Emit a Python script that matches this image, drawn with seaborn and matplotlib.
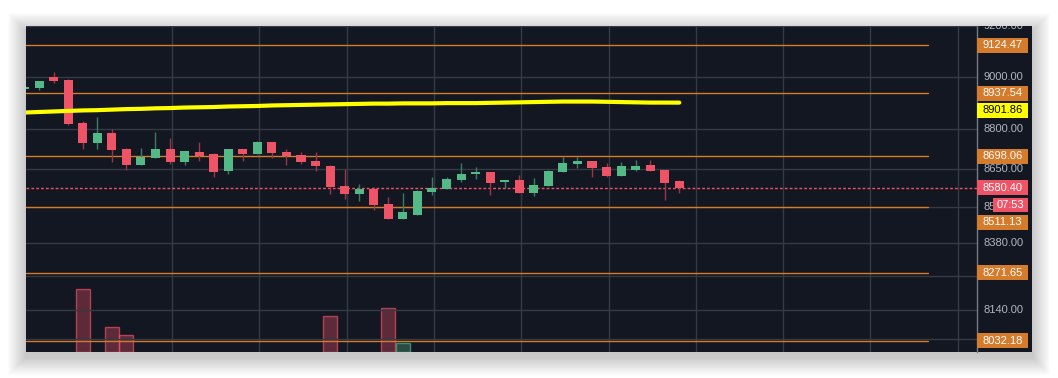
import pandas as pd
import matplotlib
matplotlib.use('Agg')
import matplotlib.pyplot as plt
import seaborn as sns
from matplotlib.patches import Rectangle
from matplotlib.ticker import FixedLocator, NullLocator
from matplotlib.transforms import blended_transform_factory, IdentityTransform

# hourly candles, oldest first (the first one is half cut by the left edge)
opens  = [8955, 8958, 9000, 8988, 8823, 8748, 8785, 8725, 8666, 8692,
          8725, 8677, 8713, 8706, 8644, 8725, 8707, 8751, 8713, 8702,
          8680, 8661, 8587, 8557, 8576, 8520, 8466, 8480, 8565, 8578,
          8609, 8631, 8639, 8602, 8609, 8561, 8587, 8639, 8669, 8680,
          8657, 8624, 8646, 8665, 8646, 8605]
highs  = [8964, 8985, 9019, 8992, 8831, 8846, 8800, 8729, 8729, 8789,
          8766, 8717, 8751, 8710, 8725, 8725, 8755, 8752, 8725, 8713,
          8713, 8665, 8649, 8594, 8583, 8546, 8561, 8572, 8620, 8620,
          8672, 8657, 8639, 8609, 8628, 8616, 8646, 8695, 8695, 8680,
          8672, 8676, 8683, 8683, 8646, 8609]
lows   = [8954, 8952, 8976, 8818, 8726, 8726, 8677, 8647, 8665, 8691,
          8670, 8666, 8681, 8621, 8632, 8681, 8707, 8692, 8666, 8670,
          8644, 8557, 8539, 8531, 8498, 8465, 8465, 8480, 8554, 8578,
          8602, 8613, 8554, 8579, 8561, 8550, 8587, 8639, 8654, 8620,
          8620, 8624, 8642, 8642, 8535, 8561]
closes = [8963, 8984, 8984, 8820, 8748, 8785, 8722, 8666, 8697, 8725,
          8677, 8717, 8698, 8640, 8725, 8707, 8751, 8711, 8698, 8677,
          8662, 8583, 8557, 8576, 8517, 8466, 8491, 8568, 8579, 8613,
          8631, 8639, 8598, 8609, 8561, 8590, 8642, 8672, 8680, 8654,
          8624, 8661, 8661, 8642, 8598, 8580.40]

# yellow moving average
ma_line = [8864, 8866, 8868, 8870, 8872, 8873, 8875, 8877, 8878, 8880,
           8881, 8883, 8884, 8885, 8887, 8888, 8889, 8891, 8892, 8893,
           8894, 8895, 8896, 8897, 8898, 8898, 8899, 8899, 8899, 8900,
           8900, 8900, 8901, 8902, 8903, 8904, 8905, 8906, 8906, 8906,
           8905, 8904, 8903, 8902, 8902, 8901.86]

# only these volume bars reach into the visible pane
vol_index = [4, 6, 7, 21, 25, 26]
vol_values = [630, 250, 170, 360, 440, 90]

price_ticks = [9200, 9000, 8800, 8650, 8510, 8380, 8260, 8140, 8040]
hidden_ticks = [8260, 8040]   # labels sit under the orange tags
level_lines = [9124.47, 8937.54, 8698.06, 8511.13, 8271.65, 8032.18]
last_price = 8580.40
ma_last = 8901.86
countdown = '07:53'

df = pd.DataFrame({'open': opens, 'high': highs, 'low': lows, 'close': closes})
df['x'] = range(len(df))
df['up'] = df['close'] >= df['open']

BG = '#131722'
GRID = '#363a45'
RED = '#ef5366'
GREEN = '#53b987'
ORANGE = '#d47b2c'

sns.set_theme(style='dark', rc={'axes.facecolor': BG, 'figure.facecolor': 'white'})
plt.rcParams['font.family'] = ['Liberation Sans', 'DejaVu Sans']

W, H = 1058, 378
fig = plt.figure(figsize=(W / 100, H / 100), dpi=100)

# soft drop shadow behind the panel, a bit heavier at the bottom
for s in range(1, 19):
    fig.patches.append(Rectangle((26 - s, 26 - s - 5), 1006 + 2 * s, 326 + 2 * s,
                                 transform=IdentityTransform(), facecolor='black',
                                 edgecolor='none', alpha=0.012, zorder=-10))

pos = [26 / W, 26 / H, 951 / W, 326 / H]
ylo, yhi = 7994, 9201
xlo, xhi = 0.1, 65.46

# volume pane sits under the price axes
axv = fig.add_axes(pos)
axv.set_facecolor(BG)
vcol = [GREEN if df['up'][i] else RED for i in vol_index]
axv.bar(vol_index, vol_values, width=0.96, color=[c + '55' for c in vcol],
        edgecolor=[c + 'aa' for c in vcol], linewidth=1)
axv.set_xlim(xlo, xhi)
axv.set_ylim(0, 3260)
axv.set_xticks([])
axv.set_yticks([])
axv.tick_params(length=0, labelbottom=False, labelleft=False)
for sp in axv.spines.values():
    sp.set_visible(False)

ax = fig.add_axes(pos)
ax.patch.set_visible(False)
ax.set_yscale('log')
ax.set_ylim(ylo, yhi)
ax.set_xlim(xlo, xhi)
ax.yaxis.set_major_locator(FixedLocator(price_ticks))
ax.yaxis.set_minor_locator(NullLocator())
ax.xaxis.set_major_locator(FixedLocator([10.14 + 6 * k for k in range(10)]))
ax.xaxis.set_minor_locator(NullLocator())
ax.tick_params(length=0, labelleft=False, labelbottom=False)
ax.grid(True, color=GRID, linewidth=1)
for sp in ax.spines.values():
    sp.set_visible(False)

# drawn horizontal levels
for lv in level_lines:
    ax.axhline(lv, xmax=0.9485, color=ORANGE, linewidth=1, zorder=2)
ax.axhline(last_price, color=RED, linewidth=1, linestyle=(0, (2, 1.5)), zorder=2)

# candles
body_c = [GREEN if u else RED for u in df['up']]
wick_c = ['#3b7d64' if u else '#9a3648' for u in df['up']]
ax.vlines(df['x'], df['low'], df['high'], colors=wick_c, linewidth=1, zorder=3)
bottoms = df[['open', 'close']].min(axis=1)
heights = (df['close'] - df['open']).abs()
ax.bar(df['x'], heights, bottom=bottoms, width=0.62, color=body_c, linewidth=0, zorder=4)

sns.lineplot(x=df['x'], y=ma_line, ax=ax, color='#ffff00', linewidth=3, zorder=5)
ax.set_xlabel('')
ax.set_ylabel('')

# price scale on the right
axp = fig.add_axes([977 / W, 26 / H, 55 / W, 326 / H])
axp.set_facecolor(BG)
axp.set_yscale('log')
axp.set_ylim(ylo, yhi)
axp.set_xlim(0, 1)
axp.set_xticks([])
axp.yaxis.set_major_locator(FixedLocator(price_ticks))
axp.yaxis.set_minor_locator(NullLocator())
axp.tick_params(axis='y', direction='in', length=4, width=1, color='#787b86', labelleft=False)
for name, sp in axp.spines.items():
    sp.set_visible(name == 'left')
axp.spines['left'].set_color('#787b86')
axp.spines['left'].set_linewidth(1)

tr_ticks = blended_transform_factory(axp.transAxes, axp.transData)
for v in price_ticks:
    if v in hidden_ticks:
        continue
    axp.text(0.127, v, f'{v:.2f}', transform=tr_ticks, ha='left', va='center',
             color='#b2b5be', fontsize=8, clip_on=True, zorder=2)

tr_px = blended_transform_factory(axp.transAxes, IdentityTransform())


def price_tag(text, price, face, ink, shift=0, x0=0.0, h=15):
    y = axp.transData.transform((0.5, price))[1] + shift
    axp.add_patch(Rectangle((x0, y - h / 2), 0.927 - x0, h, transform=tr_px,
                            facecolor=face, edgecolor='none', zorder=4))
    axp.text((x0 + 0.927) / 2, y, text, transform=tr_px, ha='center', va='center',
             color=ink, fontsize=8, zorder=5)


for lv in level_lines:
    sh = -15.6 if lv == 8511.13 else 0
    price_tag(f'{lv:.2f}', lv, ORANGE, 'white', shift=sh)
price_tag(f'{ma_last:.2f}', ma_last, '#ffff00', 'black', shift=-7.7)
price_tag(f'{last_price:.2f}', last_price, RED, 'white')
price_tag(countdown, last_price, RED, 'white', shift=-17, x0=0.29, h=13.5)

fig.savefig('out.png', dpi=100, facecolor='white')
